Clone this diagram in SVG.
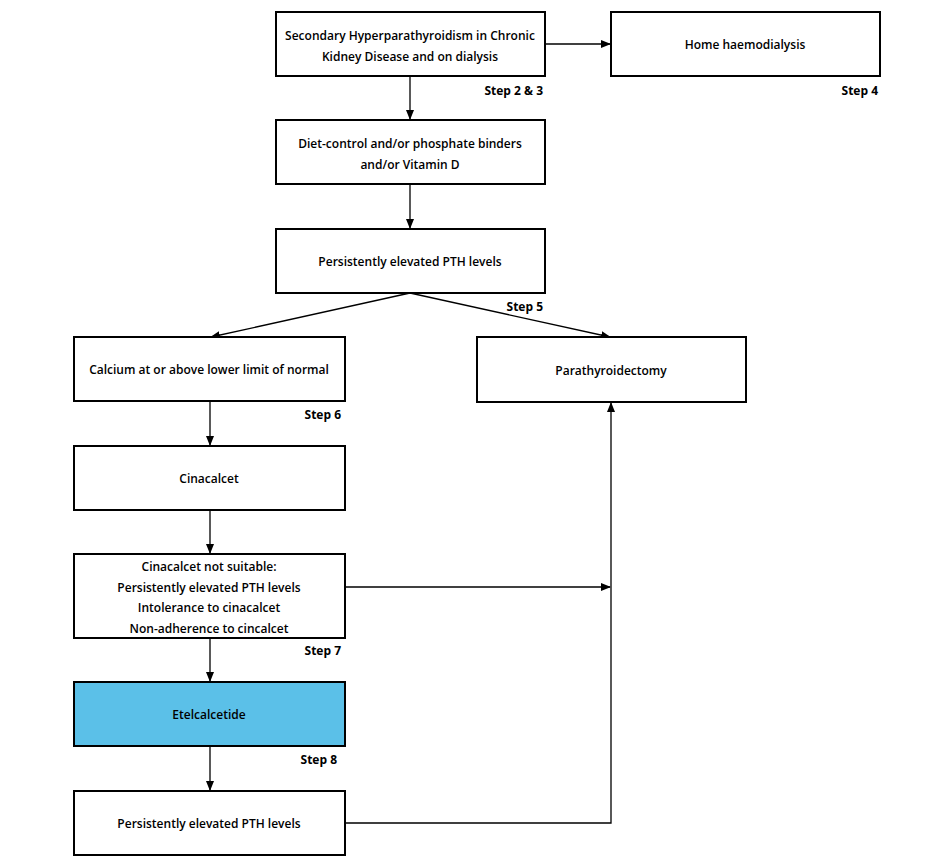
<svg xmlns="http://www.w3.org/2000/svg" width="940" height="861" viewBox="0 0 940 861">
<style>
.b{fill:#fff;stroke:#000;stroke-width:2}
.t{font-family:"Open Sans","Liberation Sans",sans-serif;font-weight:600;font-size:12px;text-anchor:middle;fill:#000}
.s{font-family:"Open Sans","Liberation Sans",sans-serif;font-weight:700;font-size:12px;text-anchor:end;fill:#000}
.c{stroke:#000;stroke-width:1.3;fill:none}
</style>
<defs><marker id="a" markerWidth="10" markerHeight="8" refX="9" refY="4" orient="auto" markerUnits="userSpaceOnUse"><path d="M0,0L10,4L0,8z" fill="#000"/></marker></defs>
<rect width="940" height="861" fill="#fff"/>
<g id="connectors">
<path class="c" d="M545,44H610" marker-end="url(#a)"/>
<path class="c" d="M410,76V119" marker-end="url(#a)"/>
<path class="c" d="M410,184V228" marker-end="url(#a)"/>
<path class="c" d="M410,293L211,337" marker-end="url(#a)"/>
<path class="c" d="M410,293L610,337" marker-end="url(#a)"/>
<path class="c" d="M210,401V445" marker-end="url(#a)"/>
<path class="c" d="M210,510V553" marker-end="url(#a)"/>
<path class="c" d="M345,587H610" marker-end="url(#a)"/>
<path class="c" d="M210,638V681" marker-end="url(#a)"/>
<path class="c" d="M210,746V790" marker-end="url(#a)"/>
<path class="c" d="M345,823H611V403" marker-end="url(#a)"/>
</g>
<g id="n1"><rect class="b" x="276" y="12" width="269" height="64"/><text class="t" x="410" y="40">Secondary Hyperparathyroidism in Chronic</text><text class="t" x="410" y="61">Kidney Disease and on dialysis</text></g>
<g id="n2"><rect class="b" x="611" y="12" width="269" height="64"/><text class="t" x="745" y="49">Home haemodialysis</text></g>
<g id="n3"><rect class="b" x="276" y="120" width="269" height="64"/><text class="t" x="410" y="148">Diet-control and/or phosphate binders</text><text class="t" x="410" y="169">and/or Vitamin D</text></g>
<g id="n4"><rect class="b" x="276" y="229" width="269" height="64"/><text class="t" x="410" y="266">Persistently elevated PTH levels</text></g>
<g id="n5"><rect class="b" x="74" y="337" width="271" height="64"/><text class="t" x="209" y="374">Calcium at or above lower limit of normal</text></g>
<g id="n6"><rect class="b" x="477" y="337" width="269" height="65"/><text class="t" x="611" y="375">Parathyroidectomy</text></g>
<g id="n7"><rect class="b" x="74" y="446" width="271" height="64"/><text class="t" x="209" y="483">Cinacalcet</text></g>
<g id="n8"><rect class="b" x="74" y="554" width="271" height="84"/><text class="t" x="209" y="571">Cinacalcet not suitable:</text><text class="t" x="209" y="592">Persistently elevated PTH levels</text><text class="t" x="209" y="612">Intolerance to cinacalcet</text><text class="t" x="209" y="633">Non-adherence to cincalcet</text></g>
<g id="n9"><rect class="b" x="74" y="682" width="271" height="64" style="fill:#5bc0e8"/><text class="t" x="209" y="719">Etelcalcetide</text></g>
<g id="n10"><rect class="b" x="74" y="791" width="271" height="64"/><text class="t" x="209" y="828">Persistently elevated PTH levels</text></g>
<g id="steps">
<text class="s" x="543" y="95">Step 2 &amp; 3</text>
<text class="s" x="878" y="95">Step 4</text>
<text class="s" x="543" y="311">Step 5</text>
<text class="s" x="341" y="419">Step 6</text>
<text class="s" x="341" y="655">Step 7</text>
<text class="s" x="337" y="764">Step 8</text>
</g>
</svg>
